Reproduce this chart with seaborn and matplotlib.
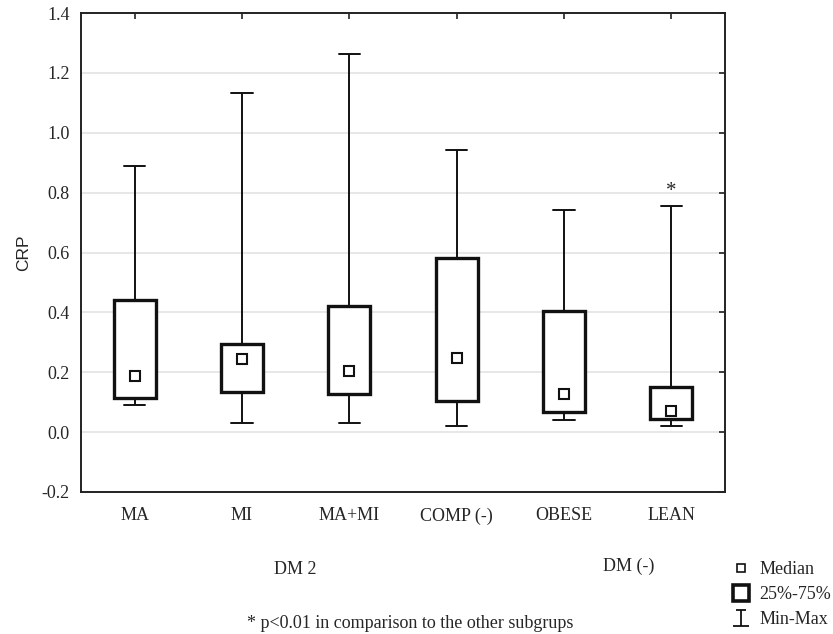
import numpy as np
import pandas as pd
import matplotlib
matplotlib.use("Agg")
import matplotlib.pyplot as plt
import seaborn as sns
from matplotlib.lines import Line2D
from matplotlib.path import Path

# CRP summary per subgroup
groups = ["MA", "MI", "MA+MI", "COMP (-)", "OBESE", "LEAN"]
mins = [0.092, 0.031, 0.031, 0.021, 0.041, 0.019]
q1 = [0.113, 0.135, 0.127, 0.104, 0.067, 0.045]
medians = [0.186, 0.243, 0.205, 0.248, 0.129, 0.072]
q3 = [0.440, 0.294, 0.421, 0.580, 0.404, 0.150]
maxs = [0.890, 1.132, 1.262, 0.942, 0.741, 0.755]
yticks = [-0.2, 0.0, 0.2, 0.4, 0.6, 0.8, 1.0, 1.2, 1.4]

# five values per group -> quartiles of these equal q1/median/q3 exactly
rows = []
for i, g in enumerate(groups):
    for v in (mins[i], q1[i], medians[i], q3[i], maxs[i]):
        rows.append((g, v))
df = pd.DataFrame(rows, columns=["group", "CRP"])
med_df = pd.DataFrame({"group": groups, "CRP": medians})

sns.set_style("white")
serif = "Liberation Serif"
sans = "Liberation Sans"
fs = 13

fig, ax = plt.subplots(figsize=(8.33, 6.34), dpi=100)
fig.subplots_adjust(left=81 / 833, right=725 / 833, top=1 - 13 / 634, bottom=1 - 492 / 634)

sns.boxplot(data=df, x="group", y="CRP", order=groups, whis=(0, 100), width=0.39,
            color="white", linecolor="#111111", fliersize=0, ax=ax,
            boxprops=dict(linewidth=2.4, edgecolor="#111111", facecolor="white"),
            whiskerprops=dict(linewidth=1.4),
            capprops=dict(linewidth=1.4),
            medianprops=dict(visible=False),
            capwidths=0.2)
sns.pointplot(data=med_df, x="group", y="CRP", order=groups, linestyle="none",
              marker="s", color="#111111", markersize=6.5, markerfacecolor="white",
              markeredgewidth=1.5, errorbar=None, ax=ax, zorder=5)

ax.set_xlim(-0.5, len(groups) - 0.5)
ax.set_ylim(-0.2, 1.4)
ax.set_yticks(yticks)
ax.set_yticklabels([f"{t:.1f}" for t in yticks], family=serif, fontsize=fs)
ax.set_xticks(range(len(groups)))
ax.set_xticklabels(groups, family=serif, fontsize=fs)
ax.set_xlabel("")
ax.set_ylabel("CRP", family=sans, fontsize=12.5, labelpad=8)
ax.yaxis.grid(True, color="#e3e3e3", linewidth=1.2)
ax.set_axisbelow(True)
ax.tick_params(direction="in", length=4, width=1.2, top=True, right=True, color="#222222")
ax.tick_params(axis="x", pad=11)
ax.tick_params(axis="y", pad=8)
for s in ax.spines.values():
    s.set_color("#222222")
    s.set_linewidth(1.4)

# asterisk above LEAN
ax.text(groups.index("LEAN"), 0.772, "*", ha="center", va="bottom", fontsize=15, family=serif)

fig.text(295 / 833, 1 - 570 / 634, "DM 2", ha="center", va="center", family=serif, fontsize=fs)
fig.text(629 / 833, 1 - 566 / 634, "DM (-)", ha="center", va="center", family=serif, fontsize=fs)
fig.text(410 / 833, 1 - 623 / 634, "* p<0.01 in comparison to the other subgrups",
         ha="center", va="center", family=serif, fontsize=fs)

ibeam = Path([(-0.6, 1), (0.6, 1), (0, 1), (0, -1), (-1, -1), (1, -1)],
             [Path.MOVETO, Path.LINETO, Path.MOVETO, Path.LINETO, Path.MOVETO, Path.LINETO])
handles = [
    Line2D([], [], linestyle="none", marker="s", markersize=6, markerfacecolor="white",
           markeredgecolor="#111111", markeredgewidth=1.2),
    Line2D([], [], linestyle="none", marker="s", markersize=12, markerfacecolor="white",
           markeredgecolor="#111111", markeredgewidth=2.6),
    Line2D([], [], linestyle="none", marker=ibeam, markersize=12, markeredgecolor="#111111",
           markeredgewidth=1.3),
]
leg = fig.legend(handles, ["Median", "25%-75%", "Min-Max"], loc="upper left",
                 bbox_to_anchor=(732 / 833, 1 - 561 / 634), frameon=False,
                 handlelength=1.0, handletextpad=0.5, labelspacing=0.45,
                 borderaxespad=0, borderpad=0, prop={"family": serif, "size": fs})

fig.savefig("out.png", dpi=100)
